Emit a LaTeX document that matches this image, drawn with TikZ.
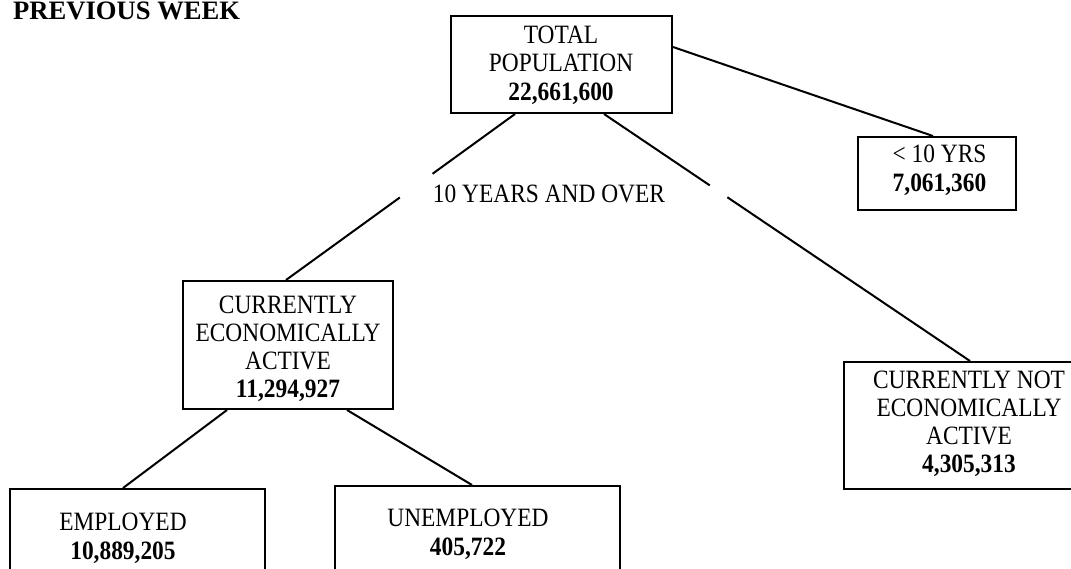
\documentclass[tikz,border=0pt]{standalone}
\usepackage{fontspec}
\setmainfont{Liberation Serif}
\usetikzlibrary{calc}
\newcommand\tlines[1]{\scalebox{1}[1.13]{\begin{tabular}[b]{@{}c@{}}#1\end{tabular}}}
\begin{document}
\begin{tikzpicture}[x=1pt,y=-1pt,
  box/.style={draw, line width=2pt, inner sep=0pt},
  txt/.style={anchor=base, inner sep=0pt, font=\fontsize{23.4}{24.8}\selectfont},
  conn/.style={line width=2pt}]
\useasboundingbox (0,0) rectangle (1071,568);
\clip (0,0) rectangle (1071,568);
% title
\node[anchor=base west, inner sep=0pt, font=\fontsize{26.6}{30}\selectfont\bfseries] (title) at (13,19) {PREVIOUS WEEK};
% boxes
\node[box, minimum width=221pt, minimum height=97pt] (total) at (561.5,64.5) {};
\node[box, minimum width=158pt, minimum height=73pt] (ten) at (937,173.5) {};
\node[box, minimum width=210pt, minimum height=128pt] (cea) at (288,345) {};
\node[box, minimum width=250pt, minimum height=127pt] (nea) at (969,425.5) {};
\node[box, minimum width=255pt, minimum height=111pt] (emp) at (137.5,544.5) {};
\node[box, minimum width=285pt, minimum height=114pt] (unemp) at (477.5,543) {};
% texts (positioned at the baseline of their last line)
\node[txt] (totalT) at (561,100) {\tlines{TOTAL\\POPULATION\\\textbf{22,661,600}}};
\node[txt] (tenT) at (939.5,191) {\tlines{< 10 YRS\\\textbf{7,061,360}}};
\node[txt] (ceaT) at (288,397.5) {\tlines{CURRENTLY\\ECONOMICALLY\\ACTIVE\\\textbf{11,294,927}}};
\node[txt] (neaT) at (969,472.5) {\tlines{CURRENTLY NOT\\ECONOMICALLY\\ACTIVE\\\textbf{4,305,313}}};
\node[txt] (empT) at (123,559) {\tlines{EMPLOYED\\\textbf{10,889,205}}};
\node[txt] (unempT) at (468,555) {\tlines{UNEMPLOYED\\\textbf{405,722}}};
\node[txt] (age) at (549,202) {\tlines{10 YEARS AND OVER}};
% connectors
\coordinate (l1) at ([xshift=-46.5pt]total.south);
\coordinate (l2) at ([xshift=-2pt]cea.north);
\path (l1) -- coordinate[pos=0.36] (lg1) coordinate[pos=0.503] (lg2) (l2);
\draw[conn] (l1) -- (lg1);
\draw[conn] (lg2) -- (l2);
\coordinate (r1) at ([xshift=42.5pt]total.south);
\coordinate (r2) at ([xshift=1pt]nea.north);
\path (r1) -- coordinate[pos=0.289] (rg1) coordinate[pos=0.337] (rg2) (r2);
\draw[conn] (r1) -- (rg1);
\draw[conn] (rg2) -- (r2);
\draw[conn] ([yshift=17.5pt]total.east) -- ([xshift=-4pt]ten.north);
\draw[conn] ([xshift=-61pt]cea.south) -- ([xshift=-14.5pt]emp.north);
\draw[conn] ([xshift=59pt]cea.south) -- ([xshift=-5.5pt]unemp.north);
\end{tikzpicture}
\end{document}
